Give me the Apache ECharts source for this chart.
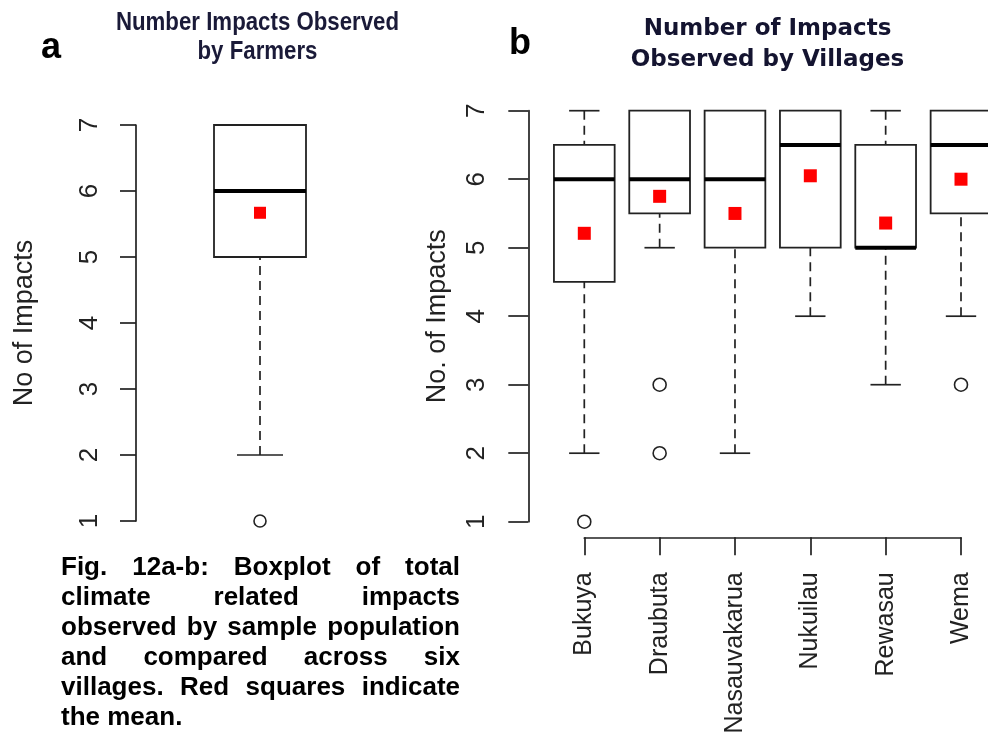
<!DOCTYPE html>
<html>
<head>
<meta charset="utf-8">
<script src="https://cdn.jsdelivr.net/npm/echarts@6/dist/echarts.min.js"></script>
<style>
  html, body { margin: 0; padding: 0; background: #ffffff; }
  #chart { width: 988px; height: 735px; }
</style>
</head>
<body>
<div id="chart"></div>
<script>
// ---- Panel a: all farmers pooled (whisker low, Q1, median, Q3, whisker high) ----
const farmerStats = [2, 5, 6, 7, 7];
const farmerOutliers = [1];
const farmerMean = 5.67;

// ---- Panel b: per village ----
const villages = ['Bukuya', 'Draubuta', 'Nasauvakarua', 'Nukuilau', 'Rewasau', 'Wema'];
const villageLow    = [2,   5,   2,   4,   3,   4];
const villageQ1     = [4.5, 5.5, 5,   5,   5,   5.5];
const villageMedian = [6,   6,   6,   6.5, 5,   6.5];
const villageQ3     = [6.5, 7,   7,   7,   6.5, 7];
const villageHigh   = [7,   7,   7,   7,   7,   7];
const villageMeans  = [5.21, 5.75, 5.50, 6.05, 5.36, 6.00];
// [village index, value]
const villageOutliers = [[0, 1], [1, 3], [1, 2], [5, 3]];

const yMin = 1, yMax = 7, yStep = 1;

const captionLines = [
  ['Fig.', '12a-b:', 'Boxplot', 'of', 'total'],
  ['climate', 'related', 'impacts'],
  ['observed', 'by', 'sample', 'population'],
  ['and', 'compared', 'across', 'six'],
  ['villages.', 'Red', 'squares', 'indicate'],
  ['the', 'mean.']
];

const ink = '#222222';
const sans = '"Liberation Sans", Arial, sans-serif';

// R-style box: dashed whiskers with staples, open box, thick median bar
function boxRenderer(boxFrac) {
  return function (params, api) {
    const x = api.value(0);
    const lo = api.value(1), q1 = api.value(2), med = api.value(3), q3 = api.value(4), hi = api.value(5);
    const unit = api.size([1, 0])[0];
    const half = unit * boxFrac / 2;
    const staple = half / 2;
    const pLo = api.coord([x, lo]);
    const pQ1 = api.coord([x, q1]);
    const pMed = api.coord([x, med]);
    const pQ3 = api.coord([x, q3]);
    const pHi = api.coord([x, hi]);
    const cx = pLo[0];
    const dashed = { stroke: ink, lineWidth: 1.7, lineDash: [9, 6], fill: null };
    const solid = { stroke: ink, lineWidth: 1.7, fill: null };
    const children = [];
    if (lo < q1) {
      children.push({ type: 'line', shape: { x1: cx, y1: pLo[1], x2: cx, y2: pQ1[1] }, style: dashed });
      children.push({ type: 'line', shape: { x1: cx - staple, y1: pLo[1], x2: cx + staple, y2: pLo[1] }, style: solid });
    }
    if (hi > q3) {
      children.push({ type: 'line', shape: { x1: cx, y1: pHi[1], x2: cx, y2: pQ3[1] }, style: dashed });
      children.push({ type: 'line', shape: { x1: cx - staple, y1: pHi[1], x2: cx + staple, y2: pHi[1] }, style: solid });
    }
    children.push({
      type: 'rect',
      shape: { x: cx - half, y: pQ3[1], width: half * 2, height: pQ1[1] - pQ3[1] },
      style: { stroke: ink, lineWidth: 1.8, fill: '#ffffff' }
    });
    children.push({
      type: 'line',
      shape: { x1: cx - half, y1: pMed[1], x2: cx + half, y2: pMed[1] },
      style: { stroke: '#000000', lineWidth: 4 }
    });
    return { type: 'group', children: children };
  };
}

function yAxisFor(gridIndex, offset, tickLen, labelMargin, name, nameGap) {
  return {
    gridIndex: gridIndex,
    type: 'value',
    min: yMin, max: yMax, interval: yStep,
    offset: offset,
    axisLine: { show: true, onZero: false, lineStyle: { color: ink, width: 1.7 } },
    axisTick: { show: true, length: tickLen, lineStyle: { color: ink, width: 1.7 } },
    axisLabel: { rotate: 90, margin: labelMargin, fontSize: 26, color: ink, fontFamily: sans },
    splitLine: { show: false },
    name: name,
    nameLocation: 'middle',
    nameGap: nameGap,
    nameTextStyle: { fontSize: 27, color: ink, fontFamily: sans }
  };
}

// Justified caption: words laid out per line from measured widths
const captionFont = 'bold 26px ' + sans;
const measureCtx = document.createElement('canvas').getContext('2d');
measureCtx.font = captionFont;
const capLeft = 61, capRight = 460, capTop = 568, capLead = 30;
const captionGraphics = [];
captionLines.forEach(function (words, li) {
  const widths = words.map(function (w) { return measureCtx.measureText(w).width; });
  const total = widths.reduce(function (a, b) { return a + b; }, 0);
  const last = li === captionLines.length - 1;
  const gap = last ? measureCtx.measureText(' ').width : (capRight - capLeft - total) / (words.length - 1);
  let xPos = capLeft;
  words.forEach(function (w, wi) {
    captionGraphics.push({
      type: 'text', x: xPos, y: capTop + li * capLead,
      style: { text: w, font: captionFont, fill: '#000000', textAlign: 'left', textVerticalAlign: 'middle' }
    });
    xPos += widths[wi] + gap;
  });
});

const titleAFont = 'bold 25px ' + sans;
const titleBFont = 'bold 23px "DejaVu Sans", sans-serif';

const chart = echarts.init(document.getElementById('chart'), null, { renderer: 'canvas' });

chart.setOption({
  animation: false,
  backgroundColor: '#ffffff',
  grid: [
    { left: 160, top: 125, width: 200, height: 396, containLabel: false, outerBoundsMode: 'none' },
    { left: 584.3, top: 110.7, width: 376.7, height: 411, containLabel: false, outerBoundsMode: 'none' }
  ],
  xAxis: [
    { gridIndex: 0, type: 'value', min: 0, max: 2, show: false,
      axisLine: { onZero: false }, splitLine: { show: false } },
    { gridIndex: 1, type: 'value', min: 0, max: villages.length - 1, interval: 1,
      offset: 15.6,
      axisLine: { show: true, onZero: false, lineStyle: { color: ink, width: 1.7 } },
      axisTick: { show: true, length: 18, lineStyle: { color: ink, width: 1.7 } },
      axisLabel: {
        rotate: 90, margin: 35, fontSize: 25, color: ink, fontFamily: sans,
        formatter: function (v) { return villages[v] || ''; }
      },
      splitLine: { show: false } }
  ],
  yAxis: [
    yAxisFor(0, 24, 16, 33, 'No of Impacts', 98),
    yAxisFor(1, 56, 20, 38, 'No. of Impacts', 77)
  ],
  series: [
    {
      type: 'custom', xAxisIndex: 0, yAxisIndex: 0,
      renderItem: boxRenderer(0.92),
      encode: { x: 0, y: [1, 2, 3, 4, 5] },
      data: [[1].concat(farmerStats)], z: 2
    },
    {
      type: 'scatter', xAxisIndex: 0, yAxisIndex: 0,
      symbol: 'circle', symbolSize: 12,
      itemStyle: { color: '#ffffff', borderColor: ink, borderWidth: 1.6, opacity: 1 },
      data: farmerOutliers.map(function (v) { return [1, v]; }), z: 3
    },
    {
      type: 'scatter', xAxisIndex: 0, yAxisIndex: 0,
      symbol: 'rect', symbolSize: 12,
      itemStyle: { color: '#ff0000', opacity: 1 },
      data: [[1, farmerMean]], z: 4
    },
    {
      type: 'custom', xAxisIndex: 1, yAxisIndex: 1,
      renderItem: boxRenderer(0.806),
      encode: { x: 0, y: [1, 2, 3, 4, 5] },
      data: villages.map(function (_, i) {
        return [i, villageLow[i], villageQ1[i], villageMedian[i], villageQ3[i], villageHigh[i]];
      }), z: 2
    },
    {
      type: 'scatter', xAxisIndex: 1, yAxisIndex: 1,
      symbol: 'circle', symbolSize: 13,
      itemStyle: { color: '#ffffff', borderColor: ink, borderWidth: 1.6, opacity: 1 },
      data: villageOutliers, z: 3
    },
    {
      type: 'scatter', xAxisIndex: 1, yAxisIndex: 1,
      symbol: 'rect', symbolSize: 13,
      itemStyle: { color: '#ff0000', opacity: 1 },
      data: villageMeans.map(function (m, i) { return [i, m]; }), z: 4
    }
  ],
  graphic: [
    { type: 'text', x: 51, y: 48,
      style: { text: 'a', font: 'bold 36px ' + sans, fill: '#000000', textAlign: 'center', textVerticalAlign: 'middle' } },
    { type: 'text', x: 520, y: 44,
      style: { text: 'b', font: 'bold 36px ' + sans, fill: '#000000', textAlign: 'center', textVerticalAlign: 'middle' } },
    { type: 'text', x: 257.5, y: 23, scaleX: 0.89,
      style: { text: 'Number Impacts Observed', font: titleAFont, fill: '#1a1a38', textAlign: 'center', textVerticalAlign: 'middle' } },
    { type: 'text', x: 257.5, y: 52, scaleX: 0.89,
      style: { text: 'by Farmers', font: titleAFont, fill: '#1a1a38', textAlign: 'center', textVerticalAlign: 'middle' } },
    { type: 'text', x: 767.5, y: 29,
      style: { text: 'Number of Impacts', font: titleBFont, fill: '#141430', textAlign: 'center', textVerticalAlign: 'middle' } },
    { type: 'text', x: 767.5, y: 60,
      style: { text: 'Observed by Villages', font: titleBFont, fill: '#141430', textAlign: 'center', textVerticalAlign: 'middle' } }
  ].concat(captionGraphics)
});
</script>
</body>
</html>
